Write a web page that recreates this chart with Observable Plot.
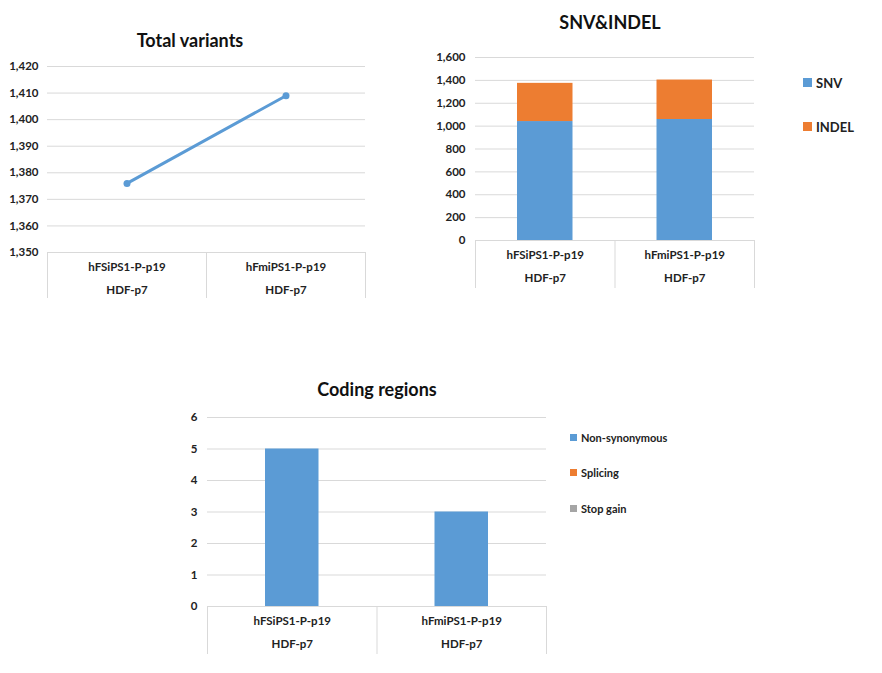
<!DOCTYPE html>
<html>
<head>
<meta charset="utf-8">
<script src="https://cdn.jsdelivr.net/npm/d3@7"></script>
<script src="https://cdn.jsdelivr.net/npm/@observablehq/plot@0.6"></script>
<style>
  html, body { margin: 0; padding: 0; background: #fff; }
  #root { position: relative; width: 882px; height: 673px; overflow: hidden; font-family: Lato, "Open Sans", sans-serif; color: #222; }
  .panel { position: absolute; }
  .title { position: absolute; font-weight: bold; font-size: 18px; transform: translate(-50%, -50%); white-space: nowrap; color: #111; }
  .legend { position: absolute; font-weight: bold; color: #222; }
  .legend .item { position: absolute; white-space: nowrap; display: flex; align-items: center; }
  .legend .sw { display: inline-block; margin-right: 4px; }
</style>
</head>
<body>
<div id="root"></div>
<script>
// ---- data ----
const categories = ["hFSiPS1-P-p19", "hFmiPS1-P-p19"];
const subLabels = ["HDF-p7", "HDF-p7"];
const totalVariants = [1376, 1409];
const snv = [1040, 1058];
const indel = [334, 345];
const snvSeries = ["SNV", "INDEL"];
const codingSeries = ["Non-synonymous", "Splicing", "Stop gain"];
const nonSynonymous = [5, 3];
const splicing = [0, 0];
const stopGain = [0, 0];
const totalTicks = [1350, 1360, 1370, 1380, 1390, 1400, 1410, 1420];
const snvTicks = [0, 200, 400, 600, 800, 1000, 1200, 1400, 1600];
const codingTicks = [0, 1, 2, 3, 4, 5, 6];

const BLUE = "#5B9BD5", ORANGE = "#ED7D31", GRAY = "#A5A5A5", GRID = "#D9D9D9";
const root = document.getElementById("root");
const fmt = d3.format(",");

function place(el, left, top) {
  el.classList.add("panel");
  el.style.left = left + "px";
  el.style.top = top + "px";
  root.appendChild(el);
}
function title(text, cx, cy) {
  const d = document.createElement("div");
  d.className = "title"; d.textContent = text;
  d.style.left = cx + "px"; d.style.top = cy + "px";
  root.appendChild(d);
}
function legend(items, left, tops, sw, fs) {
  const L = document.createElement("div");
  L.className = "legend";
  L.style.left = left + "px"; L.style.top = "0px";
  items.forEach(([name, color], k) => {
    const it = document.createElement("div");
    it.className = "item";
    it.style.top = (tops[k] - fs * 0.7) + "px";
    it.style.fontSize = fs + "px";
    const s = document.createElement("span");
    s.className = "sw"; s.style.width = sw + "px"; s.style.height = sw + "px"; s.style.background = color;
    it.appendChild(s);
    it.appendChild(document.createTextNode(name));
    L.appendChild(it);
  });
  root.appendChild(L);
}
function catAxis(boxH) {
  const n = categories.length;
  const centers = d3.range(n).map(i => i + 0.5);
  return [
    Plot.axisX({ticks: d3.range(n + 1), tickSize: boxH, tickFormat: () => "", stroke: GRID, strokeOpacity: 1}),
    Plot.axisX({ticks: centers, tickSize: 0, tickPadding: 10, tickFormat: v => categories[Math.floor(v)], fill: "#222"}),
    Plot.axisX({ticks: centers, tickSize: 0, tickPadding: 33, tickFormat: v => subLabels[Math.floor(v)], fill: "#222"})
  ];
}
const baseStyle = {fontFamily: "Lato, 'Open Sans', sans-serif", fontWeight: "bold", fontSize: "11.5px", color: "#222", background: "transparent", overflow: "visible"};

// ---- Panel 1: Total variants ----
const totalData = categories.map((c, i) => ({i: i + 0.5, v: totalVariants[i]}));
const p1 = Plot.plot({
  width: 380, height: 310,
  marginLeft: 47, marginRight: 15, marginTop: 66, marginBottom: 58,
  style: baseStyle,
  x: {domain: [0, categories.length], label: null, axis: null},
  y: {domain: [1350, 1420], label: null, axis: null},
  marks: [
    Plot.ruleY(totalTicks, {stroke: GRID, strokeWidth: 1}),
    Plot.axisY({ticks: totalTicks, tickSize: 0, tickPadding: 9, tickFormat: fmt, fill: "#222"}),
    ...catAxis(46),
    Plot.line(totalData, {x: "i", y: "v", stroke: BLUE, strokeWidth: 3}),
    Plot.dot(totalData, {x: "i", y: "v", r: 3.5, fill: BLUE})
  ]
});
place(p1, 0, 0);
title("Total variants", 190, 40);

// ---- Panel 2: SNV&INDEL ----
const snvData = [];
categories.forEach((c, i) => {
  snvData.push({x1: i, x2: i + 1, y1: 0, y2: snv[i], s: "SNV"});
  snvData.push({x1: i, x2: i + 1, y1: snv[i], y2: snv[i] + indel[i], s: "INDEL"});
});
const p2 = Plot.plot({
  width: 462, height: 300,
  marginLeft: 55, marginRight: 128, marginTop: 57, marginBottom: 60,
  style: baseStyle,
  x: {domain: [0, categories.length], label: null, axis: null},
  y: {domain: [0, 1600], label: null, axis: null},
  color: {domain: snvSeries, range: [BLUE, ORANGE]},
  marks: [
    Plot.ruleY(snvTicks, {stroke: GRID, strokeWidth: 1}),
    Plot.axisY({ticks: snvTicks, tickSize: 0, tickPadding: 10, tickFormat: fmt, fill: "#222"}),
    ...catAxis(48),
    Plot.rectY(snvData, {x1: "x1", x2: "x2", y1: "y1", y2: "y2", fill: "s", insetLeft: 42, insetRight: 42})
  ]
});
place(p2, 420, 0);
title("SNV&INDEL", 610, 22);
legend([["SNV", BLUE], ["INDEL", ORANGE]], 803, [84, 128], 9, 13);

// ---- Panel 3: Coding regions ----
const codingData = [];
categories.forEach((c, i) => {
  let acc = 0;
  [[nonSynonymous, "Non-synonymous"], [splicing, "Splicing"], [stopGain, "Stop gain"]].forEach(([arr, s]) => {
    codingData.push({x1: i, x2: i + 1, y1: acc, y2: acc + arr[i], s});
    acc += arr[i];
  });
});
const p3 = Plot.plot({
  width: 712, height: 303,
  marginLeft: 37, marginRight: 336, marginTop: 47, marginBottom: 67,
  style: baseStyle,
  x: {domain: [0, categories.length], label: null, axis: null},
  y: {domain: [0, 6], label: null, axis: null},
  color: {domain: codingSeries, range: [BLUE, ORANGE, GRAY]},
  marks: [
    Plot.ruleY(codingTicks, {stroke: GRID, strokeWidth: 1}),
    Plot.axisY({ticks: codingTicks, tickSize: 0, tickPadding: 10, tickFormat: d3.format("d"), fill: "#222"}),
    ...catAxis(48),
    Plot.rectY(codingData.filter(d => d.y2 > d.y1), {x1: "x1", x2: "x2", y1: "y1", y2: "y2", fill: "s", insetLeft: 58, insetRight: 58})
  ]
});
place(p3, 170, 370);
title("Coding regions", 377, 389);
legend([["Non-synonymous", BLUE], ["Splicing", ORANGE], ["Stop gain", GRAY]], 570, [439, 474, 510], 7, 11);
</script>
</body>
</html>
